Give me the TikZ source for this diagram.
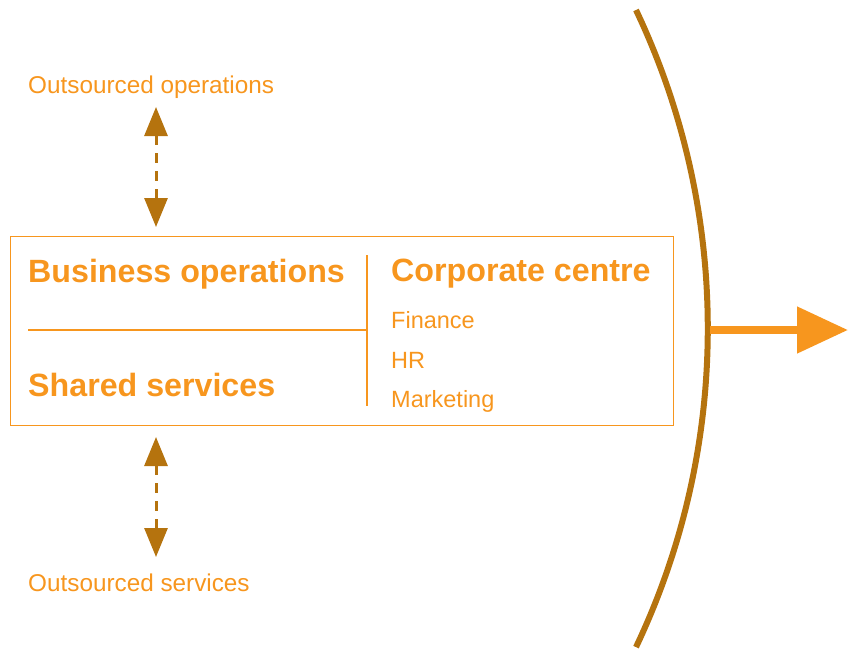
\documentclass[tikz,border=0pt]{standalone}
\usepackage{fontspec}
\setmainfont{Liberation Sans}
\usetikzlibrary{arrows.meta}
\definecolor{orng}{HTML}{F7961E}
\definecolor{brwn}{HTML}{B5730E}
\begin{document}
\begin{tikzpicture}[x=1pt,y=-1pt,
  head/.style={font=\fontsize{32.2}{36}\selectfont\bfseries, text=orng, inner sep=0pt, anchor=base west},
  item/.style={font=\fontsize{23.5}{28}\selectfont, text=orng, inner sep=0pt, anchor=base west},
  outlbl/.style={font=\fontsize{24.3}{28}\selectfont, text=orng, inner sep=0pt, anchor=base west},
  rule/.style={draw=orng, line width=2pt},
  dasharrow/.style={draw=brwn, line width=3pt, dash pattern=on 10pt off 8pt,
     {Triangle[width=23pt,length=29pt]}-{Triangle[width=23pt,length=29pt]}}]
\useasboundingbox (0,0) rectangle (848,651);
% outer box
\node (box) [draw=orng, line width=1.2pt, minimum width=663pt, minimum height=189pt, inner sep=0pt, anchor=north west] at (10,236) {};
% texts
\node (busops) [head] at (28,282) {Business operations};
\node (shared) [head] at (28,396) {Shared services};
\node (corp) [head] at (391,281) {Corporate centre};
\node (fin) [item] at (391,328) {Finance};
\node (hr) [item] at (391,368) {HR};
\node (mkt) [item] at (391,407) {Marketing};
\node (outops) [outlbl] at (28,93) {Outsourced operations};
\node (outsrv) [outlbl] at (28,591) {Outsourced services};
% inner rules
\coordinate (hl) at (28,330);
\coordinate (hr2) at (367,330);
\coordinate (vt) at (367,255);
\coordinate (vb) at (367,406);
\draw[rule] (hl) -- (hr2);
\draw[rule] (vt) -- (vb);
% dashed arrows
\coordinate (a1t) at (156,107);
\coordinate (a1b) at (156,227);
\coordinate (a2t) at (156,437);
\coordinate (a2b) at (156,557);
\draw[dasharrow] (a1t) -- (a1b);
\draw[dasharrow] (a2t) -- (a2b);
% arc
\coordinate (arctop) at (636,10);
\draw[brwn, line width=6pt] (arctop) arc[start angle=25.4, end angle=-25.4, radius=742.7pt];
% out arrow
\coordinate (arcmid) at (710,330);
\coordinate (tip) at (848,330);
\draw[orng, line width=8pt, -{Triangle[width=45pt,length=51pt]}] (arcmid) -- (tip);
\end{tikzpicture}
\end{document}
